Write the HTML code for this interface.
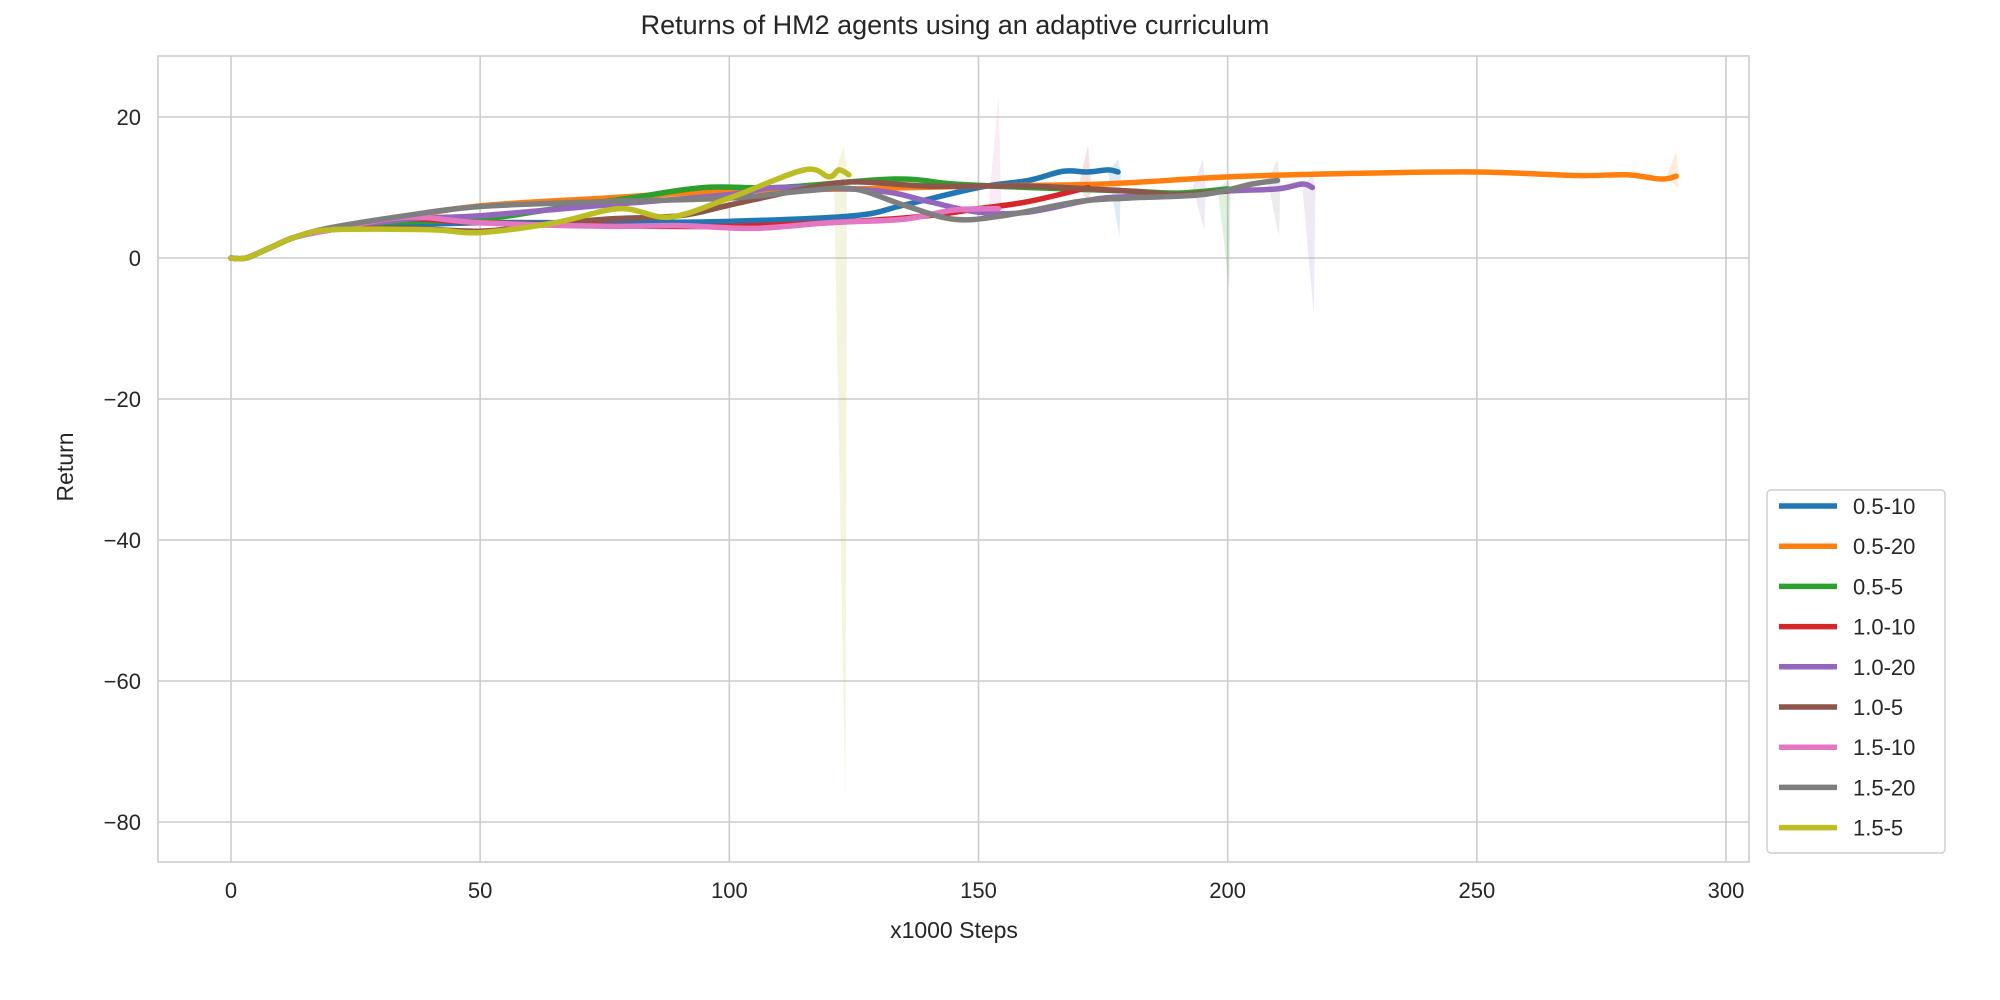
<!DOCTYPE html>
<html><head><meta charset="utf-8"><style>
body{margin:0;background:#fff;}
svg{display:block;font-family:"Liberation Sans",Arial,sans-serif;}
</style></head><body>
<svg id="chart" width="2000" height="1000" viewBox="0 0 2000 1000">
<rect x="0" y="0" width="2000" height="1000" fill="#fff"/>
<text x="955" y="34" text-anchor="middle" font-size="27" fill="#262626">Returns of HM2 agents using an adaptive curriculum</text>
<g id="grid"></g>
<g id="bands"></g>
<g id="lines"></g>
<rect x="158" y="56" width="1591" height="806" fill="none" stroke="#cccccc" stroke-width="1.6"/>
<g id="ticks"></g>
<text x="954" y="938" text-anchor="middle" font-size="23" fill="#262626">x1000 Steps</text>
<text transform="translate(73,467) rotate(-90)" text-anchor="middle" font-size="23" fill="#262626">Return</text>
<g id="legend"></g>
</svg>
<script>
const seriesNames=["0.5-10","0.5-20","0.5-5","1.0-10","1.0-20","1.0-5","1.5-10","1.5-20","1.5-5"];
const colors=["#1f77b4","#ff7f0e","#2ca02c","#d62728","#9467bd","#8c564b","#e377c2","#7f7f7f","#bcbd22"];
const xTicks=[0,50,100,150,200,250,300];
const yTicks=[20,0,-20,-40,-60,-80];
const s0x=[0,3,8,13,20,30,50,75,100,125,135,150,160,167,172,176,178];
const s0y=[0,0,1.5,3,4,4.5,5,5,5.2,6,7.5,10,11,12.3,12.2,12.5,12.2];
const s1x=[0,3,8,13,20,35,50,75,100,125,150,175,200,225,250,270,280,287,290];
const s1y=[0,0,1.5,3,4,5.8,7.4,8.5,9.5,9.8,10.2,10.5,11.5,12,12.2,11.7,11.8,11.2,11.6];
const s2x=[0,3,8,13,20,30,50,65,80,95,110,133,145,160,180,190,200];
const s2y=[0,0,1.5,3,4,5,5.5,7,8.5,10,10,11.2,10.5,10,9.5,9.2,9.8];
const s3x=[0,3,8,13,20,35,50,75,100,125,140,150,160,172];
const s3y=[0,0,1.5,3,4,5.5,5,4.6,4.5,5.2,6,7,8,10];
const s4x=[0,3,8,13,20,35,50,75,100,110,130,140,150,160,175,190,200,210,215,217];
const s4y=[0,0,1.5,3,4,5.5,6,7.5,9,10,9.5,8,6.5,6.5,8.5,8.8,9.5,9.8,10.5,10];
const s5x=[0,3,8,13,20,35,50,60,75,90,100,115,125,140,160,180,190,200];
const s5y=[0,0,1.5,3,4,4.2,3.8,4.5,5.5,6,7.5,9.8,10.8,10.2,10.2,9.5,9,9.5];
const s6x=[0,3,8,13,20,35,50,75,90,105,120,135,145,154];
const s6y=[0,0,1.5,3,4,5.8,5,4.5,4.6,4.2,5,5.5,6.8,7];
const s7x=[0,3,8,13,20,35,50,75,100,115,125,135,145,155,170,180,195,205,210];
const s7y=[0,0,1.5,3,4.3,6,7.3,8,8.5,9.5,9.8,7.5,5.5,6,8,8.5,9,10.5,11];
const s8x=[0,3,8,13,20,40,50,65,78,88,100,115,120,122,124];
const s8y=[0,0,1.5,3,4,4,3.6,5,7,5.8,8.5,12.5,11.5,12.5,11.8];
const xs=[s0x,s1x,s2x,s3x,s4x,s5x,s6x,s7x,s8x];
const ys=[s0y,s1y,s2y,s3y,s4y,s5y,s6y,s7y,s8y];
const spikeSeries=[8,6,0,3,4,4,2,7,1];
const spikeX=[123,154,178,172,195,217,200,210,290];
const spikeHi=[16,23,14,16,14,12,11,14,15];
const spikeLo=[-78,5,3,8,4,-8,-4,3,10];

const X=v=>231+v*(1726-231)/300;
const Y=v=>258+v*(117-258)/20;
const NS="http://www.w3.org/2000/svg";
function mk(tag,attrs,parent){const e=document.createElementNS(NS,tag);for(const k in attrs)e.setAttribute(k,attrs[k]);parent.appendChild(e);return e;}
const grid=document.getElementById('grid'),ticks=document.getElementById('ticks');
xTicks.forEach(t=>{
  const l=mk('line',{x1:X(t),x2:X(t),y1:56,y2:862,stroke:'#cccccc','stroke-width':1.6},grid);
  
  
  const tx=mk('text',{x:X(t),y:898,'text-anchor':'middle','font-size':22,fill:'#262626'},ticks);
  tx.textContent=t;
  
  
});
yTicks.forEach(t=>{
  const l=mk('line',{x1:158,x2:1749,y1:Y(t),y2:Y(t),stroke:'#cccccc','stroke-width':1.6},grid);
  
  
  const tx=mk('text',{x:141,y:Y(t)+8,'text-anchor':'end','font-size':22,fill:'#262626'},ticks);
  tx.textContent=(t<0?'\u2212'+(-t):t);
  
  
});
function smooth(px,py){
  let d='M'+px[0]+','+py[0];
  for(let i=0;i<px.length-1;i++){
    const x0=px[Math.max(i-1,0)],y0=py[Math.max(i-1,0)],x1=px[i],y1=py[i],x2=px[i+1],y2=py[i+1],x3=px[Math.min(i+2,px.length-1)],y3=py[Math.min(i+2,px.length-1)];
    d+=' C'+(x1+(x2-x0)/6)+','+(y1+(y2-y0)/6)+' '+(x2-(x3-x1)/6)+','+(y2-(y3-y1)/6)+' '+x2+','+y2;
  }
  return d;
}
const bands=document.getElementById('bands');
spikeSeries.forEach((s,i)=>{
  const xv=spikeX[i];
  const arr=xs[s];const n=arr.length;
  const yv=ys[s][n-1];
  const pts=[[X(xv-2),Y(yv)],[X(xv),Y(spikeHi[i])],[X(xv+0.6),Y(yv)],[X(xv+0.3),Y(spikeLo[i])]];
  const p=mk('polygon',{points:pts.map(q=>q.join(',')).join(' '),fill:colors[s],'fill-opacity':0.15},bands);
  
  
});
const lines=document.getElementById('lines');
xs.forEach((arr,i)=>{
  const p=mk('path',{d:smooth(arr.map(X),ys[i].map(Y)),fill:'none',stroke:colors[i],'stroke-width':5.5,'stroke-linejoin':'round','stroke-linecap':'round'},lines);
  
  
});
const leg=document.getElementById('legend');
const box=mk('rect',{x:1767,y:490,width:178,height:363,rx:4,fill:'#fff',stroke:'#cccccc','stroke-width':1.4},leg);


seriesNames.forEach((n,i)=>{
  const cy=506+i*40.2;
  const l=mk('line',{x1:1779,x2:1837,y1:cy,y2:cy,stroke:colors[i],'stroke-width':5.5},leg);
  
  
  const t=mk('text',{x:1853,y:cy+8,'font-size':22,fill:'#262626'},leg);
  t.textContent=n;
  
  
});
</script>
</body></html>
